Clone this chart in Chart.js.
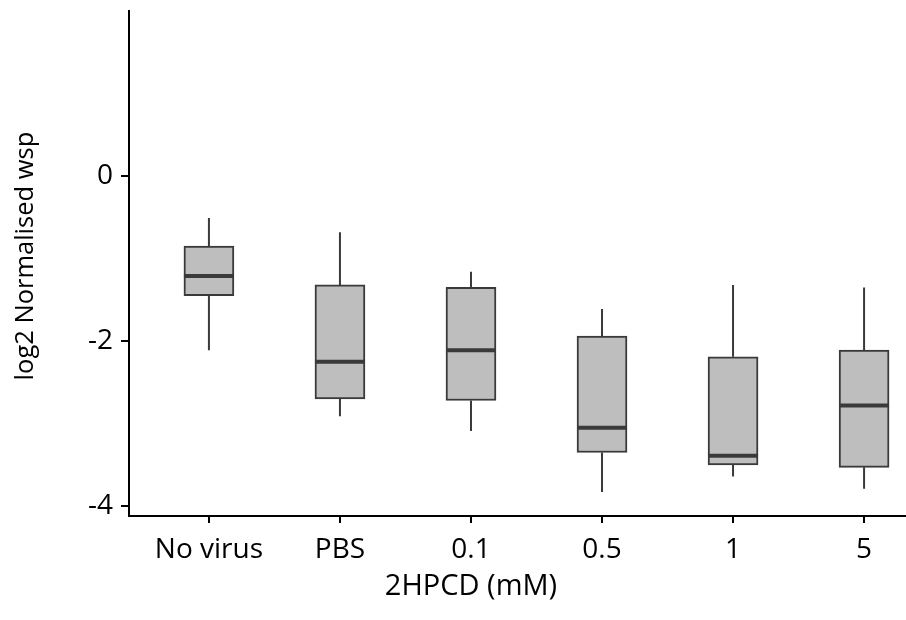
<!DOCTYPE html>
<html>
<head>
<meta charset="utf-8">
<script src="https://cdn.jsdelivr.net/npm/chart.js@4/dist/chart.umd.min.js"></script>
<style>
  html, body { margin: 0; padding: 0; background: #fff; overflow: hidden; }
  #chart-box { display: block; }
</style>
</head>
<body>
<canvas id="chart-box" width="906" height="620"></canvas>
<script>
// 2HPCD濃度ごとの箱ひげ図データ (log2 正規化値)
const categories = ['No virus', 'PBS', '0.1', '0.5', '1', '5'];
const whiskerHigh = [-0.51, -0.68, -1.16, -1.61, -1.32, -1.35];
const upperQuartile = [-0.85, -1.32, -1.35, -1.94, -2.19, -2.11];
const medians = [-1.21, -2.25, -2.11, -3.05, -3.39, -2.78];
const lowerQuartile = [-1.45, -2.70, -2.72, -3.35, -3.50, -3.53];
const whiskerLow = [-2.11, -2.91, -3.09, -3.83, -3.64, -3.79];
const yTicks = [-4, -2, 0];

const xTitle = '2HPCD (mM)';
const yTitle = 'log2 Normalised wsp';

const FONT = "'Open Sans', sans-serif";
const DARK = '#3a3a3a';

/**
 * ひげと中央値の線、軸タイトルを描くプラグイン
 */
const boxExtras = {
    id: 'boxExtras',
    beforeDatasetsDraw(chart) {
        const { ctx, scales: { x, y } } = chart;
        ctx.save();
        ctx.strokeStyle = DARK;
        ctx.lineWidth = 2;
        categories.forEach((_, i) => {
            const px = x.getPixelForValue(i);
            ctx.beginPath();
            ctx.moveTo(px, y.getPixelForValue(whiskerHigh[i]));
            ctx.lineTo(px, y.getPixelForValue(upperQuartile[i]));
            ctx.moveTo(px, y.getPixelForValue(lowerQuartile[i]));
            ctx.lineTo(px, y.getPixelForValue(whiskerLow[i]));
            ctx.stroke();
        });
        ctx.restore();
    },
    afterDatasetsDraw(chart) {
        const { ctx, scales: { x, y } } = chart;
        const half = 25;
        ctx.save();
        ctx.strokeStyle = DARK;
        ctx.lineWidth = 4;
        categories.forEach((_, i) => {
            const px = x.getPixelForValue(i);
            const py = y.getPixelForValue(medians[i]);
            ctx.beginPath();
            ctx.moveTo(px - half, py);
            ctx.lineTo(px + half, py);
            ctx.stroke();
        });
        ctx.restore();
    },
    afterDraw(chart) {
        const { ctx, scales: { x, y } } = chart;
        ctx.save();
        ctx.fillStyle = '#000';
        ctx.textAlign = 'center';
        ctx.textBaseline = 'alphabetic';
        ctx.font = `29px ${FONT}`;
        ctx.fillText(xTitle, x.getPixelForValue(2), 595);
        ctx.translate(33, y.getPixelForValue(-0.97));
        ctx.rotate(-Math.PI / 2);
        ctx.font = `25.5px ${FONT}`;
        ctx.fillText(yTitle, 0, 0);
        ctx.restore();
    }
};

new Chart(document.getElementById('chart-box').getContext('2d'), {
    type: 'bar',
    data: {
        datasets: [{
            data: categories.map((c, i) => ({ x: i, y: [lowerQuartile[i], upperQuartile[i]] })),
            backgroundColor: '#bebebe',
            borderColor: DARK,
            borderWidth: 2,
            borderSkipped: false,
            barThickness: 50
        }]
    },
    options: {
        responsive: false,
        animation: false,
        layout: { padding: { top: 11, right: 0, bottom: 0, left: 0 } },
        scales: {
            x: {
                type: 'linear',
                offset: false,
                min: -0.61,
                max: 5.32,
                afterBuildTicks: axis => { axis.ticks = categories.map((_, i) => ({ value: i })); },
                afterFit: scale => {
                    scale.height = 104;
                    scale.paddingLeft = 0;
                    scale.paddingRight = 0;
                },
                grid: { offset: false, drawOnChartArea: false, drawTicks: true, tickLength: 7, color: '#000', lineWidth: 2 },
                border: { display: true, color: '#000', width: 2 },
                ticks: {
                    color: '#000',
                    font: { family: FONT, size: 28 },
                    padding: 10,
                    maxRotation: 0,
                    callback: v => categories[v] ?? ''
                }
            },
            y: {
                min: -4.12,
                max: 2.0,
                afterBuildTicks: axis => { axis.ticks = yTicks.map(v => ({ value: v })); },
                afterFit: scale => {
                    scale.width = 129;
                    scale.paddingTop = 0;
                    scale.paddingBottom = 0;
                },
                grid: { drawOnChartArea: false, drawTicks: true, tickLength: 8, color: '#000', lineWidth: 2 },
                border: { display: true, color: '#000', width: 2 },
                ticks: {
                    color: '#000',
                    font: { family: FONT, size: 28 },
                    padding: 8,
                    callback: v => String(v)
                }
            }
        },
        plugins: {
            legend: { display: false },
            tooltip: { enabled: false }
        }
    },
    plugins: [boxExtras]
});
</script>
</body>
</html>
